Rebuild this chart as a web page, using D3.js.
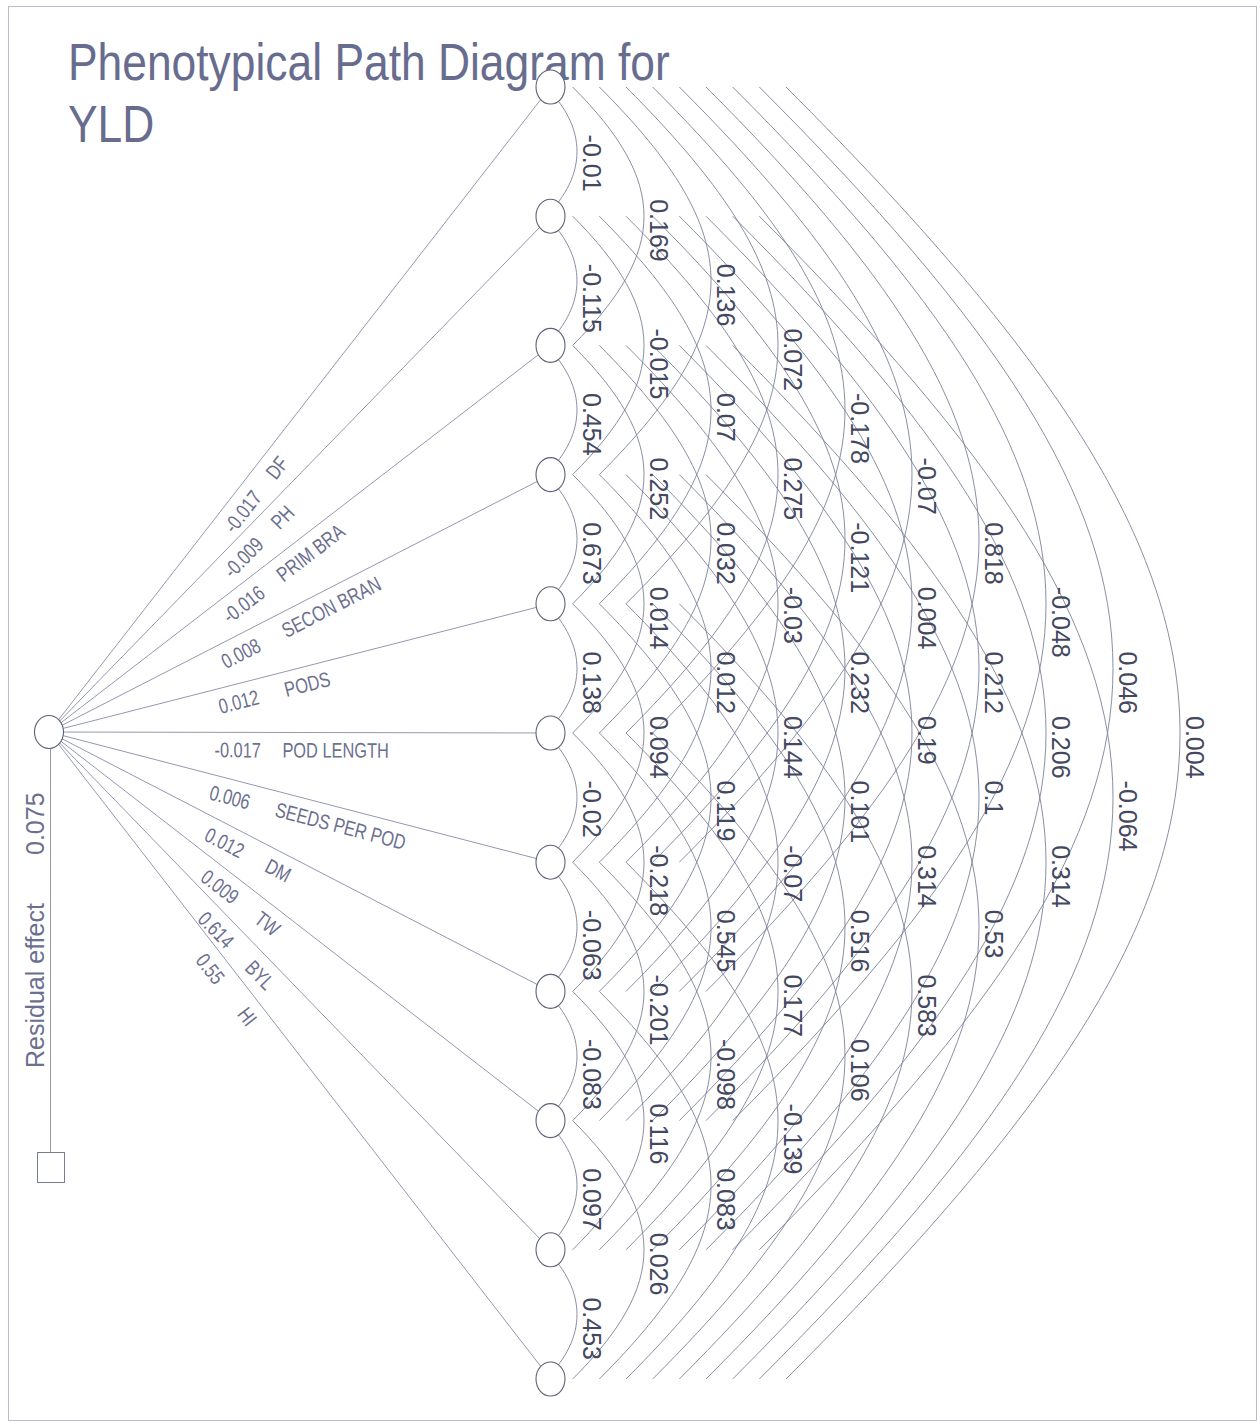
<!DOCTYPE html>
<html>
<head>
<meta charset="utf-8">
<script src="https://cdn.jsdelivr.net/npm/d3@7"></script>
<style>
  body { margin: 0; background: #ffffff; }
  svg { display: block; }
</style>
</head>
<body>
<svg id="chart"></svg>
<script>
// ---- data -------------------------------------------------------------
const traits = ["DF", "PH", "PRIM BRA", "SECON BRAN", "PODS", "POD LENGTH",
                "SEEDS PER POD", "DM", "TW", "BYL", "HI"];
const directEffects = [-0.017, -0.009, -0.016, 0.008, 0.012, -0.017,
                       0.006, 0.012, 0.009, 0.614, 0.55];
const residualEffect = 0.075;

// correlations of each trait with the traits listed after it
const corrDF     = [-0.01, 0.169, 0.136, 0.072, -0.178, -0.07, 0.818, -0.048, 0.046, 0.004];
const corrPH     = [-0.115, -0.015, 0.07, 0.275, -0.121, 0.004, 0.212, 0.206, -0.064];
const corrPRIM   = [0.454, 0.252, 0.032, -0.03, 0.232, 0.19, 0.1, 0.314];
const corrSECON  = [0.673, 0.014, 0.012, 0.144, 0.101, 0.314, 0.53];
const corrPODS   = [0.138, 0.094, 0.119, -0.07, 0.516, 0.583];
const corrPODLEN = [-0.02, -0.218, 0.545, 0.177, 0.106];
const corrSEEDS  = [-0.063, -0.201, -0.098, -0.139];
const corrDM     = [-0.083, 0.116, 0.083];
const corrTW     = [0.097, 0.026];
const corrBYL    = [0.453];
const corrRows = [corrDF, corrPH, corrPRIM, corrSECON, corrPODS, corrPODLEN,
                  corrSEEDS, corrDM, corrTW, corrBYL];

const titleLines = ["Phenotypical Path Diagram for", "YLD"];

// ---- layout -----------------------------------------------------------
const W = 1260, H = 1427;
const svg = d3.select("#chart").attr("width", W).attr("height", H);
svg.append("rect").attr("width", W).attr("height", H).attr("fill", "#ffffff");

const FONT = "'Liberation Sans', Arial, sans-serif";
const LINE = "#7d8199", LINE_LIGHT = "#9498b2", INK = "#44485f", INK_LIGHT = "#6c7090";

const yNode = d3.scalePoint().domain(traits).range([87, 1379]);
const xNode = 550.5;
const source = { x: 49, y: 732 };
const xEnd  = d3.scaleLinear().domain([1, 10]).range([546, 786]);   // arc foot by lag
const xPeak = d3.scaleLinear().domain([1, 10]).range([577, 1180]);  // arc crest by lag

// page frame
svg.append("rect")
  .attr("x", 8.5).attr("y", 6.5).attr("width", 1248).attr("height", 1414)
  .attr("fill", "none").attr("stroke", "#b9bccb").attr("stroke-width", 1);

// title
const title = svg.append("g").attr("fill", "#686c8e")
  .attr("font-family", FONT).attr("font-size", 51);
titleLines.forEach((t, k) => {
  title.append("text")
    .attr("transform", `translate(68,${80 + k * 62}) scale(0.87,1)`)
    .text(t);
});

// correlation arcs
const links = [];
corrRows.forEach((row, i) => row.forEach((r, k) => links.push({ i, j: i + k + 1, lag: k + 1, r })));

function arcPath(l) {
  const y0 = yNode(traits[l.i]), y1 = yNode(traits[l.j]);
  const x0 = xEnd(l.lag);
  const c = (xPeak(l.lag) - x0) / 0.75;
  const p = d3.path();
  p.moveTo(x0, y0);
  p.bezierCurveTo(x0 + c, y0 + c, x0 + c, y1 - c, x0, y1);
  return p.toString();
}

svg.append("g").attr("fill", "none").attr("stroke", LINE).attr("stroke-width", 0.9)
  .selectAll("path").data(links).join("path").attr("d", arcPath);

// direct paths from the yield node
svg.append("g").attr("stroke", LINE_LIGHT).attr("stroke-width", 1)
  .selectAll("line").data(traits).join("line")
  .attr("x1", source.x).attr("y1", source.y)
  .attr("x2", xNode).attr("y2", d => yNode(d));

// residual link
svg.append("line")
  .attr("x1", 50.5).attr("y1", source.y).attr("x2", 50.5).attr("y2", 1152)
  .attr("stroke", LINE_LIGHT).attr("stroke-width", 1);
svg.append("rect")
  .attr("x", 37.5).attr("y", 1152.5).attr("width", 27).attr("height", 30)
  .attr("fill", "#ffffff").attr("stroke", "#777b94").attr("stroke-width", 1);
const resid = svg.append("g").attr("transform", "translate(44,1068) rotate(-90)")
  .attr("font-family", FONT).attr("font-size", 25).attr("fill", INK_LIGHT);
resid.append("text").attr("x", 0).text("Residual effect");
resid.append("text").attr("x", 213).text(residualEffect);

// nodes
svg.append("g").attr("fill", "#ffffff").attr("stroke", "#5d6179").attr("stroke-width", 1.1)
  .selectAll("ellipse").data(traits).join("ellipse")
  .attr("cx", xNode).attr("cy", d => yNode(d)).attr("rx", 14.5).attr("ry", 17);
svg.append("ellipse").attr("cx", source.x).attr("cy", source.y).attr("rx", 14.5).attr("ry", 16.5)
  .attr("fill", "#ffffff").attr("stroke", "#5d6179").attr("stroke-width", 1.1);

// direct effect labels along each path
const dl = svg.append("g").attr("font-family", FONT).attr("font-size", 21).attr("fill", INK_LIGHT);
traits.forEach((t, i) => {
  const dx = xNode - source.x, dy = yNode(t) - source.y;
  const ang = Math.atan2(dy, dx) * 180 / Math.PI;
  const s = 0.33 * Math.hypot(dx, dy);
  const g = dl.append("g").attr("transform", `translate(${source.x},${source.y}) rotate(${ang})`);
  g.append("text").attr("transform", `translate(${s},25) scale(0.78,1)`).text(directEffects[i]);
  g.append("text").attr("transform", `translate(${s + 68},25) scale(0.78,1)`).text(t);
});

// correlation labels beside each arc crest
svg.append("g").attr("font-family", FONT).attr("font-size", 25).attr("fill", INK)
  .selectAll("text").data(links).join("text")
  .attr("transform", l => {
    const ym = (yNode(traits[l.i]) + yNode(traits[l.j])) / 2;
    return `translate(${xPeak(l.lag) + 6},${ym - 17}) rotate(90)`;
  })
  .text(l => l.r);
</script>
</body>
</html>
